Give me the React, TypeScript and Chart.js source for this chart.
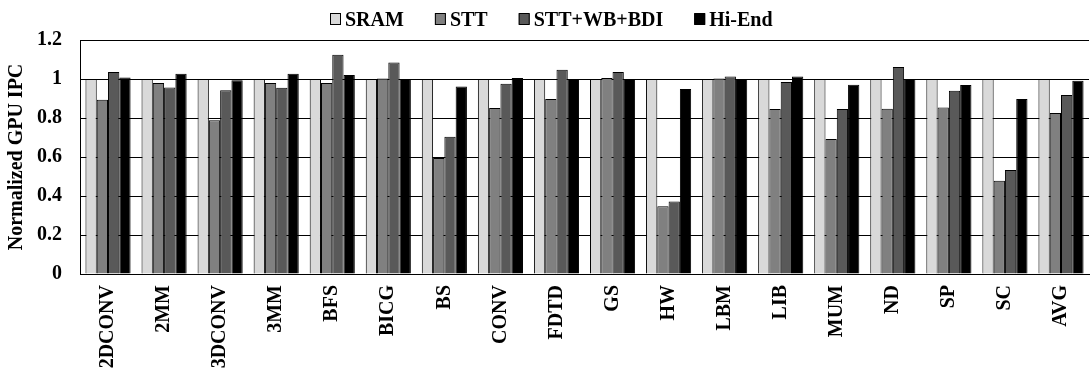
import React, { useEffect, useRef } from "react";
import { Chart, registerables } from "chart.js";

Chart.register(...registerables);

const categories = ["2DCONV", "2MM", "3DCONV", "3MM", "BFS", "BICG", "BS", "CONV", "FDTD", "GS", "HW", "LBM", "LIB", "MUM", "ND", "SP", "SC", "AVG"];
const seriesNames = ["SRAM", "STT", "STT+WB+BDI", "Hi-End"];
const sramValues = [1, 1, 1, 1, 1, 1, 1, 1, 1, 1, 1, 1, 1, 1, 1, 1, 1, 1];
const sttValues = [0.894, 0.979, 0.788, 0.979, 0.979, 1.003, 0.595, 0.851, 0.897, 1.005, 0.347, 1.003, 0.846, 0.692, 0.848, 0.854, 0.478, 0.826];
const sttWbBdiValues = [1.036, 0.957, 0.942, 0.955, 1.125, 1.085, 0.704, 0.976, 1.048, 1.036, 0.372, 1.013, 0.985, 0.846, 1.062, 0.94, 0.533, 0.918];
const hiEndValues = [1.008, 1.027, 0.993, 1.027, 1.02, 1.0, 0.962, 1.005, 1.0, 1.0, 0.949, 1.0, 1.013, 0.971, 1.0, 0.969, 0.897, 0.991];
const yTickLabels = ["0", "0.2", "0.4", "0.6", "0.8", "1", "1.2"];
const seriesColors = ["#d9d9d9", "#808080", "#595959", "#000000"];

const FONT = "'Liberation Serif', 'Times New Roman', serif";

const legendPlugin = {
  id: "topLegend",
  afterDraw(chart: any) {
    const ctx = chart.ctx;
    ctx.save();
    ctx.font = `bold 20px ${FONT}`;
    ctx.textBaseline = "alphabetic";
    ctx.textAlign = "left";
    let x = 330;
    const box = 11;
    const baseY = 26;
    chart.data.datasets.forEach((ds: any) => {
      ctx.fillStyle = ds.backgroundColor;
      ctx.fillRect(x, 13.5, box, box);
      ctx.strokeStyle = "#000";
      ctx.lineWidth = 1;
      ctx.strokeRect(x + 0.5, 13.5, box - 1, box);
      ctx.fillStyle = "#000";
      const tx = x + box + 4;
      ctx.fillText(ds.label, tx, baseY);
      x = tx + ctx.measureText(ds.label).width + 31;
    });
    ctx.restore();
  },
};

export default function App() {
  const ref = useRef<HTMLCanvasElement | null>(null);
  useEffect(() => {
    document.body.style.margin = "0";
    document.body.style.overflow = "hidden";
    const values = [sramValues, sttValues, sttWbBdiValues, hiEndValues];
    const chart = new Chart(ref.current as HTMLCanvasElement, {
      type: "bar",
      data: {
        labels: categories,
        datasets: seriesNames.map((name, i) => ({
          label: name,
          data: values[i],
          backgroundColor: seriesColors[i],
          borderColor: "#000",
          borderWidth: 1,
          categoryPercentage: 0.805,
          barPercentage: 1,
        })),
      },
      options: {
        animation: false,
        responsive: false,
        devicePixelRatio: 1,
        layout: { padding: { top: 40, left: 0, right: 0, bottom: 0 } },
        plugins: { legend: { display: false }, tooltip: { enabled: false } },
        scales: {
          x: {
            grid: { display: false, drawTicks: false },
            border: { display: true, color: "#000", width: 1 },
            ticks: {
              autoSkip: false,
              minRotation: 90,
              maxRotation: 90,
              padding: 11,
              color: "#000",
              font: { family: FONT, size: 20, weight: "bold" },
            },
            afterFit(scale: any) {
              scale.height = 100;
            },
          },
          y: {
            min: 0,
            max: 1.2,
            grid: { color: "#000", lineWidth: 1, drawTicks: false },
            border: { display: true, color: "#000", width: 1 },
            ticks: {
              stepSize: 0.2,
              padding: 18,
              color: "#000",
              font: { family: FONT, size: 20, weight: "bold" },
              callback: (_v: any, i: number) => yTickLabels[i],
            },
            title: {
              display: true,
              text: "Normalized GPU IPC",
              color: "#000",
              font: { family: FONT, size: 20, weight: "bold" },
              padding: { top: 5, bottom: 0 },
            },
            afterFit(scale: any) {
              scale.width = 80;
            },
          },
        },
      },
      plugins: [legendPlugin],
    });
    return () => chart.destroy();
  }, []);
  return (
    <div style={{ width: 1092, height: 374, overflow: "hidden", background: "#fff" }}>
      <canvas ref={ref} width={1096} height={374} style={{ display: "block" }} />
    </div>
  );
}
